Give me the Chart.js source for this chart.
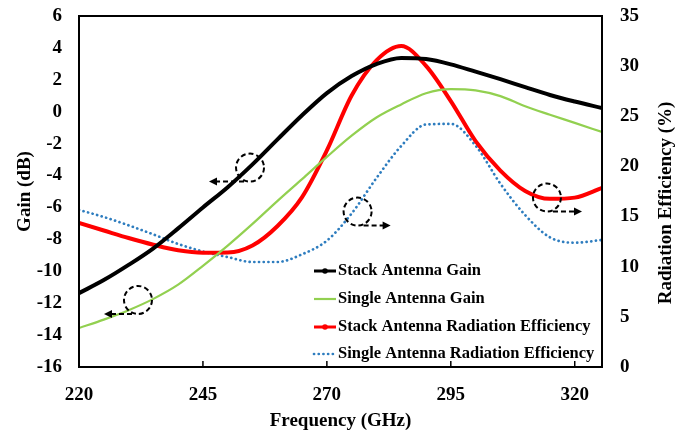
<!DOCTYPE html>
<html>
<head>
<meta charset="utf-8">
<script src="https://cdn.jsdelivr.net/npm/chart.js@4.4.1/dist/chart.umd.min.js"></script>
<style>
  html, body { margin: 0; padding: 0; background: #fff; }
</style>
</head>
<body>
<canvas id="chart" width="693" height="439"></canvas>
<script>
// values
const freq = [220, 225, 230, 235, 240, 245, 250, 255, 260, 265, 270, 275, 280, 285, 290, 295, 300, 305, 310, 315, 320, 325.5];
const stackGain = [-11.37, -10.55, -9.6, -8.56, -7.31, -6.0, -4.73, -3.3, -1.75, -0.22, 1.17, 2.24, 2.99, 3.37, 3.3, 2.97, 2.51, 2.04, 1.54, 1.05, 0.64, 0.23];
const singleGain = [-13.56, -13.03, -12.44, -11.73, -10.84, -9.66, -8.39, -7.03, -5.6, -4.22, -2.83, -1.5, -0.36, 0.46, 1.16, 1.42, 1.34, 0.98, 0.34, -0.19, -0.70, -1.27];
const stackEff = [14.36, 13.61, 12.86, 12.19, 11.64, 11.4, 11.42, 12.12, 14.04, 16.94, 21.59, 27.07, 30.57, 32.0, 30.03, 26.52, 22.52, 19.59, 17.56, 16.77, 16.89, 17.85];
const singleEff = [15.66, 14.96, 14.13, 13.22, 12.27, 11.52, 10.96, 10.47, 10.47, 11.24, 12.6, 15.31, 18.84, 22.04, 24.18, 24.24, 22.08, 18.28, 15.15, 12.93, 12.39, 12.67];
const xTicks = [220, 245, 270, 295, 320];

// dashed circles with arrows pointing to the axis each curve belongs to
const notes = [
    {x: 254.5, y: -3.5, axis: "y", dir: -1, len: 35},
    {x: 231.9, y: -11.8, axis: "y", dir: -1, len: 28},
    {x: 276.2, y: 15.5, axis: "y2", dir: 1, len: 27},
    {x: 314.4, y: 16.9, axis: "y2", dir: 1, len: 29}
];

const FONT = "'Liberation Serif', 'Times New Roman', serif";

function pts(ys) {
    return freq.map((f, i) => ({x: f, y: ys[i]}));
}

// keep the tick padding from pushing the plot area down
function noPad(s, w) {
    s.width = w;
    s.paddingTop = 0;
    s.paddingBottom = 0;
}

const extras = {
    id: "extras",
    afterDraw(chart) {
        const ctx = chart.ctx;
        const a = chart.chartArea;
        const sx = chart.scales.x;

        ctx.save();
        // frame
        ctx.strokeStyle = "#000";
        ctx.lineWidth = 2;
        ctx.strokeRect(a.left, a.top, a.right - a.left, a.bottom - a.top);

        // inward x ticks
        ctx.lineWidth = 1.5;
        xTicks.forEach(v => {
            const px = sx.getPixelForValue(v);
            ctx.beginPath();
            ctx.moveTo(px, a.bottom);
            ctx.lineTo(px, a.bottom - 6);
            ctx.stroke();
        });

        // annotations
        notes.forEach(n => {
            const cx = sx.getPixelForValue(n.x);
            const cy = chart.scales[n.axis].getPixelForValue(n.y);
            ctx.setLineDash([5, 3]);
            ctx.lineWidth = 2;
            ctx.beginPath();
            ctx.arc(cx, cy, 14, 0, Math.PI * 2);
            ctx.stroke();
            const x0 = cx + n.dir * 6;
            const x1 = x0 + n.dir * n.len;
            const ay = cy + 14;
            ctx.beginPath();
            ctx.moveTo(x0, ay);
            ctx.lineTo(x1 - n.dir * 6, ay);
            ctx.stroke();
            ctx.setLineDash([]);
            ctx.beginPath();
            ctx.moveTo(x1, ay);
            ctx.lineTo(x1 - n.dir * 8, ay - 4);
            ctx.lineTo(x1 - n.dir * 8, ay + 4);
            ctx.closePath();
            ctx.fillStyle = "#000";
            ctx.fill();
        });

        // legend
        const rows = [96, 68, 40, 13];
        ctx.font = "bold 16.5px " + FONT;
        ctx.textBaseline = "middle";
        ctx.textAlign = "left";
        chart.data.datasets.forEach((ds, i) => {
            const y = a.bottom - rows[i];
            const lx = a.left + 235;
            ctx.strokeStyle = ds.borderColor;
            ctx.lineWidth = Math.min(ds.borderWidth, 3);
            ctx.lineCap = ds.borderCapStyle || "butt";
            ctx.setLineDash(ds.borderDash || []);
            ctx.beginPath();
            ctx.moveTo(lx, y);
            ctx.lineTo(lx + 22, y);
            ctx.stroke();
            ctx.setLineDash([]);
            if (ds.legendDot) {
                ctx.fillStyle = ds.borderColor;
                ctx.beginPath();
                ctx.arc(lx + 11, y, 2.8, 0, Math.PI * 2);
                ctx.fill();
            }
            ctx.fillStyle = "#000";
            ctx.fillText(ds.label, lx + 24, y);
        });

        // right axis title, reading bottom to top
        ctx.font = "bold 19px " + FONT;
        ctx.textAlign = "center";
        ctx.translate(666, 203);
        ctx.rotate(-Math.PI / 2);
        ctx.fillText("Radiation Efficiency (%)", 0, 0);
        ctx.restore();
    }
};

new Chart(document.getElementById("chart"), {
    type: "line",
    data: {
        datasets: [
            {
                label: "Stack Antenna Gain",
                data: pts(stackGain),
                yAxisID: "y",
                borderColor: "#000000",
                borderWidth: 4,
                legendDot: true
            },
            {
                label: "Single Antenna Gain",
                data: pts(singleGain),
                yAxisID: "y",
                borderColor: "#92D050",
                borderWidth: 2.2
            },
            {
                label: "Stack Antenna Radiation Efficiency",
                data: pts(stackEff),
                yAxisID: "y2",
                borderColor: "#FF0000",
                borderWidth: 4,
                legendDot: true
            },
            {
                label: "Single Antenna Radiation Efficiency",
                data: pts(singleEff),
                yAxisID: "y2",
                borderColor: "#2E7DBF",
                borderWidth: 2.7,
                borderDash: [0.1, 4.6],
                borderCapStyle: "round"
            }
        ]
    },
    options: {
        responsive: false,
        animation: false,
        layout: { padding: { top: 16, left: 0, right: 0, bottom: 0 } },
        elements: {
            point: { radius: 0 },
            line: { cubicInterpolationMode: "monotone", fill: false }
        },
        plugins: {
            legend: { display: false },
            tooltip: { enabled: false }
        },
        scales: {
            x: {
                type: "linear",
                min: 220,
                max: 325.5,
                afterBuildTicks: s => { s.ticks = xTicks.map(v => ({value: v})); },
                afterFit: s => { s.height = 72; },
                grid: { display: false },
                border: { display: false },
                ticks: { color: "#000", padding: 9, font: { family: FONT, size: 19, weight: "bold" } },
                title: {
                    display: true,
                    text: "Frequency (GHz)",
                    color: "#000",
                    padding: { top: 0, bottom: 7 },
                    font: { family: FONT, size: 19, weight: "bold" }
                }
            },
            y: {
                position: "left",
                min: -16,
                max: 6,
                ticks: { stepSize: 2, color: "#000", padding: 9, font: { family: FONT, size: 19, weight: "bold" } },
                afterFit: s => noPad(s, 79),
                grid: { display: false },
                border: { display: false },
                title: {
                    display: true,
                    text: "Gain (dB)",
                    color: "#000",
                    padding: { top: 14, bottom: 0 },
                    font: { family: FONT, size: 19, weight: "bold" }
                }
            },
            y2: {
                position: "right",
                min: 0,
                max: 35,
                ticks: { stepSize: 5, color: "#000", padding: 10, font: { family: FONT, size: 19, weight: "bold" } },
                afterFit: s => noPad(s, 91),
                grid: { display: false },
                border: { display: false }
            }
        }
    },
    plugins: [extras]
});
</script>
</body>
</html>
